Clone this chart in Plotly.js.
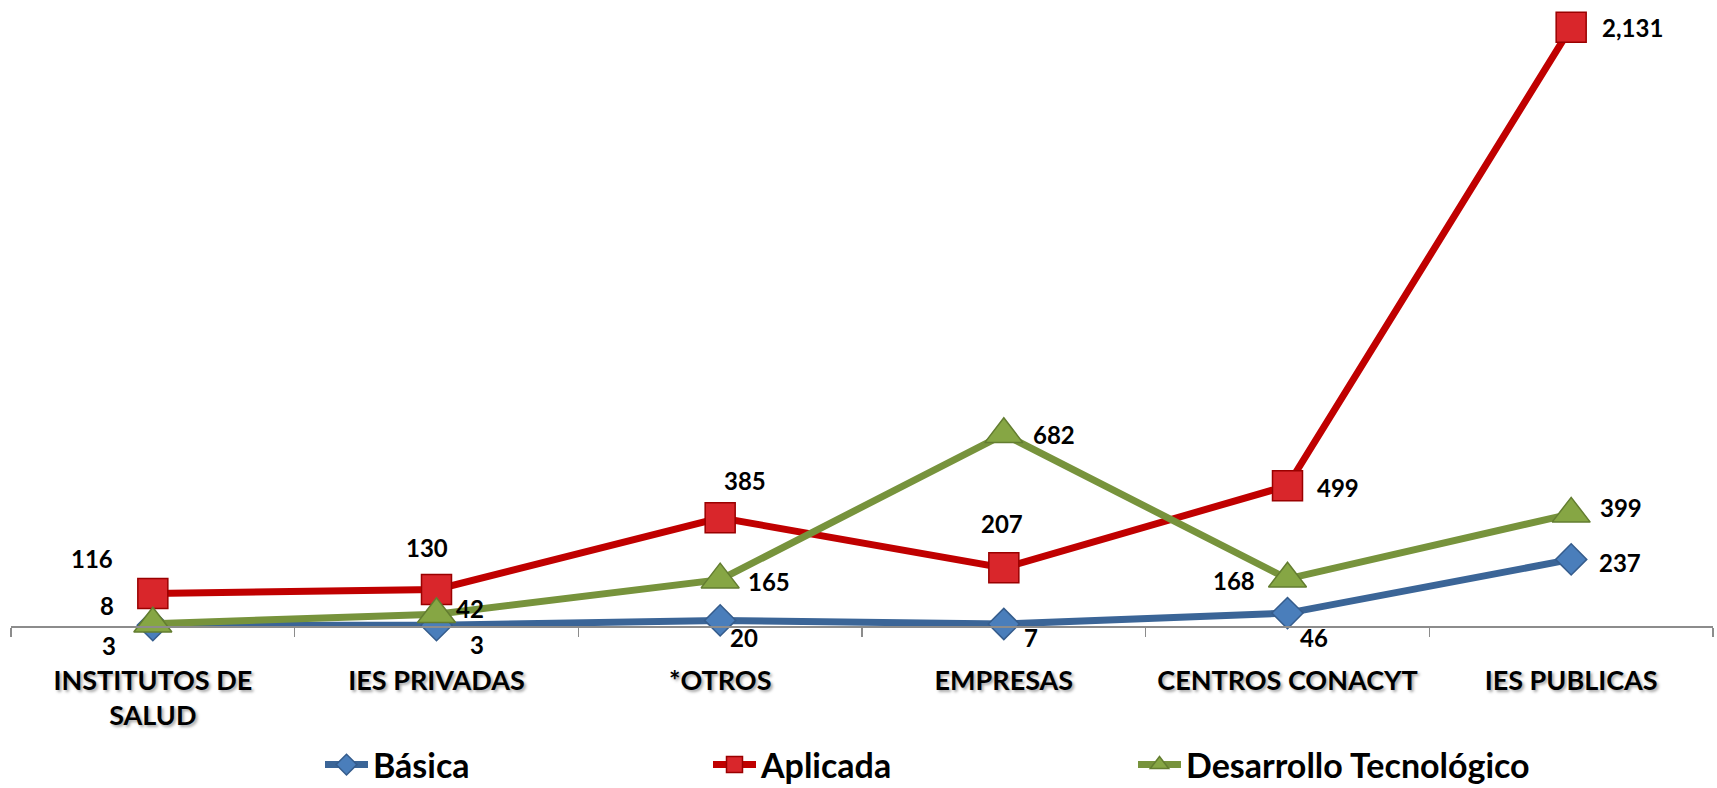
<!DOCTYPE html>
<html>
<head>
<meta charset="utf-8">
<script src="https://cdn.plot.ly/plotly-3.0.1.min.js"></script>
<style>
  html, body { margin: 0; padding: 0; background: #ffffff; }
  #chart { width: 1717px; height: 788px; }
</style>
</head>
<body>
<div id="chart"></div>
<script>
// ---- data ----
const categories = ['INSTITUTOS DE<br>SALUD', 'IES PRIVADAS', '*OTROS', 'EMPRESAS', 'CENTROS CONACYT', 'IES PUBLICAS'];
const seriesNames = ['Básica', 'Aplicada', 'Desarrollo Tecnológico'];
const basica = [3, 3, 20, 7, 46, 237];
const aplicada = [116, 130, 385, 207, 499, 2131];
const desarrollo = [8, 42, 165, 682, 168, 399];

// ---- label placement (pixel offsets from each point) ----
const basicaDx = [-44, 40, 24, 27, 26, 49];
const basicaDy = [20, 19, 17, 13, 24, 3];
const aplicadaDx = [-61, -10, 25, -2, 50, 61];
const aplicadaDy = [-35, -42, -37, -44, 2, 0];
const desarrolloDx = [-46, 33, 49, 50, -54, 50];
const desarrolloDy = [-18, -6, 2, 0, 2, -6];

const FONT = 'Lato, "Open Sans", "DejaVu Sans", sans-serif';

const traces = [
  {
    x: categories, y: basica, name: seriesNames[0], type: 'scatter', mode: 'lines+markers',
    line: { color: '#3B6597', width: 7 },
    marker: { symbol: 'diamond', size: 24, color: '#4A7EBB', line: { color: '#355C8C', width: 1.5 } },
    cliponaxis: false, legend: 'legend'
  },
  {
    x: categories, y: aplicada, name: seriesNames[1], type: 'scatter', mode: 'lines+markers',
    line: { color: '#C00000', width: 7 },
    marker: { symbol: 'square', size: 30, color: '#D9262B', line: { color: '#9A0000', width: 1.5 } },
    cliponaxis: false, legend: 'legend2'
  },
  {
    x: categories, y: desarrollo, name: seriesNames[2], type: 'scatter', mode: 'lines+markers',
    line: { color: '#77933C', width: 7 },
    marker: { symbol: 'triangle-up', size: 33, color: '#86A644', line: { color: '#637D30', width: 1.5 } },
    cliponaxis: false, legend: 'legend3'
  }
];

function labels(vals, dx, dy) {
  return vals.map((v, i) => ({
    x: categories[i], y: v, xref: 'x', yref: 'y',
    text: v.toLocaleString('en-US'), showarrow: false,
    xshift: dx[i], yshift: -dy[i],
    font: { family: FONT, size: 24, color: '#000000', weight: 'bold' }
  }));
}

const annotations = [].concat(
  labels(basica, basicaDx, basicaDy),
  labels(aplicada, aplicadaDx, aplicadaDy),
  labels(desarrollo, desarrolloDx, desarrolloDy)
);

const legendBase = {
  orientation: 'h', xref: 'container', yref: 'container', y: 1 - 765 / 788, yanchor: 'middle', xanchor: 'left',
  bgcolor: 'rgba(0,0,0,0)', borderwidth: 0, itemwidth: 43,
  font: { family: FONT, size: 34, color: '#000000', weight: 'bold' }
};

const layout = {
  width: 1717, height: 788,
  margin: { l: 11, r: 4, t: 10, b: 162, pad: 0, autoexpand: false },
  paper_bgcolor: '#ffffff', plot_bgcolor: '#ffffff',
  showlegend: true,
  hovermode: false,
  xaxis: {
    type: 'category', range: [-0.5, 5.5], fixedrange: true, automargin: false,
    showline: true, linecolor: '#8C8C8C', linewidth: 1.5,
    ticks: 'outside', tickson: 'boundaries', ticklen: 9, tickcolor: '#8C8C8C', tickwidth: 1.5,
    ticklabelstandoff: 30,
    showgrid: false, zeroline: false,
    tickfont: { family: FONT, size: 27, color: '#000000', weight: 'bold', shadow: '2px 2px 3px rgba(0,0,0,0.35)' }
  },
  yaxis: { visible: false, range: [0, 2192], fixedrange: true, showgrid: false, zeroline: false },
  legend: Object.assign({}, legendBase, { x: 320 / 1717 }),
  legend2: Object.assign({}, legendBase, { x: 708 / 1717 }),
  legend3: Object.assign({}, legendBase, { x: 1133 / 1717 }),
  annotations: annotations
};

Plotly.newPlot('chart', traces, layout, { displayModeBar: false, staticPlot: true });
</script>
</body>
</html>
